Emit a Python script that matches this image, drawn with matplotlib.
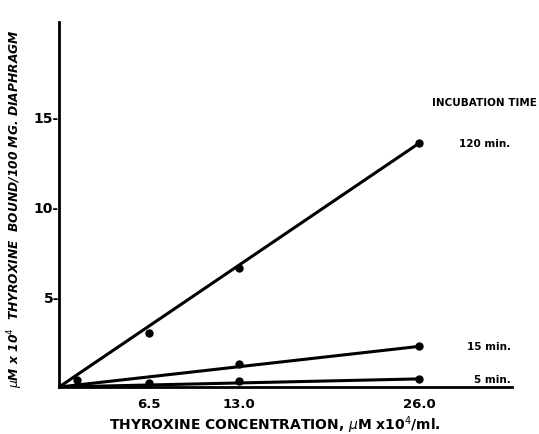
import matplotlib.pyplot as plt
import numpy as np

# Datos
conc_120 = [1.3, 6.5, 13.0, 26.0]
bound_120 = [0.4, 3.0, 6.6, 13.5]
conc_15 = [13.0, 26.0]
bound_15 = [1.3, 2.25]
conc_5 = [6.5, 13.0, 26.0]
bound_5 = [0.25, 0.35, 0.45]

series = [
    ("120 min.", conc_120, bound_120),
    ("15 min.", conc_15, bound_15),
    ("5 min.", conc_5, bound_5),
]

fig = plt.figure(figsize=(5.39, 4.35), dpi=100)
ax = fig.add_axes([0.1095, 0.108, 0.8405, 0.839])

for label, x, y in series:
    x, y = np.array(x), np.array(y)
    # recta desde el origen hasta el último punto
    ax.plot([0, x[-1]], [0, y[-1]], color="black", lw=2.2, solid_capstyle="round")
    ax.plot(x, y, "o", color="black", ms=5)
    ax.text(32.6, y[-1], label, fontsize=7.5, fontweight="bold",
            va="center", ha="right")

ax.text(34.5, 15.8, "INCUBATION TIME", fontsize=7.5, fontweight="bold",
        ha="right", va="center")

ax.set_xlim(0, 32.7)
ax.set_ylim(0, 20.2)
ax.set_xticks([6.5, 13.0, 26.0])
ax.set_xticklabels(["6.5", "13.0", "26.0"])
ax.set_yticks([5, 10, 15])
ax.set_yticklabels(["5-", "10-", "15-"])
ax.tick_params(axis="x", length=0, pad=7, labelsize=9.5)
ax.tick_params(axis="y", length=0, pad=0, labelsize=10)
for t in ax.get_xticklabels() + ax.get_yticklabels():
    t.set_fontweight("bold")

for s in ["top", "right"]:
    ax.spines[s].set_visible(False)
ax.spines["left"].set_linewidth(2.0)
ax.spines["bottom"].set_linewidth(2.0)

fig.text(0.51, 0.022, "THYROXINE CONCENTRATION, $\\mu$M x10$^4$/ml.", fontsize=10,
         fontweight="bold", ha="center", va="center")
fig.text(0.028, 0.52, "$\\mu$M x 10$^4$  THYROXINE  BOUND/100 MG. DIAPHRAGM",
         fontsize=8.8, fontweight="bold", fontstyle="italic", rotation=90,
         ha="center", va="center")

fig.savefig("out.png", dpi=100)
